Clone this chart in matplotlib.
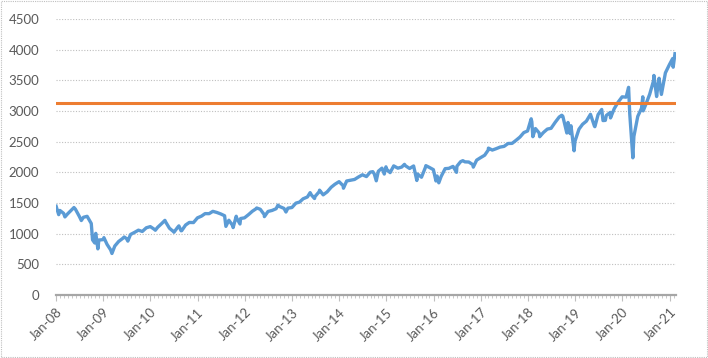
import numpy as np
import pandas as pd
import matplotlib
matplotlib.use("Agg")
import matplotlib.pyplot as plt
import matplotlib.dates as mdates
from matplotlib.patches import Rectangle

# S&P 500 level (month-end closes plus swing highs/lows)
dates = [
    "2008-01-02", "2008-01-22", "2008-01-31", "2008-02-29", "2008-03-10", "2008-03-31",
    "2008-04-30", "2008-05-19", "2008-05-30", "2008-06-30", "2008-07-15", "2008-07-31",
    "2008-08-29", "2008-09-30", "2008-10-10", "2008-10-27", "2008-10-31", "2008-11-04",
    "2008-11-20", "2008-11-28", "2008-12-31", "2009-01-06", "2009-01-30", "2009-02-27",
    "2009-03-09", "2009-03-31", "2009-04-30", "2009-05-29", "2009-06-12", "2009-06-30",
    "2009-07-10", "2009-07-31", "2009-08-31", "2009-09-30", "2009-10-30", "2009-11-30",
    "2009-12-31", "2010-01-29", "2010-02-08", "2010-02-26", "2010-03-31", "2010-04-23",
    "2010-04-30", "2010-05-28", "2010-06-30", "2010-07-02", "2010-07-30", "2010-08-09",
    "2010-08-26", "2010-08-31", "2010-09-30", "2010-10-29", "2010-11-30", "2010-12-31",
    "2011-01-31", "2011-02-28", "2011-03-31", "2011-04-29", "2011-05-31", "2011-06-30",
    "2011-07-29", "2011-08-08", "2011-08-31", "2011-09-30", "2011-10-03", "2011-10-27",
    "2011-10-31", "2011-11-25", "2011-11-30", "2011-12-30", "2012-01-31", "2012-02-29",
    "2012-03-30", "2012-04-02", "2012-04-30", "2012-05-31", "2012-06-01", "2012-06-29",
    "2012-07-31", "2012-08-31", "2012-09-14", "2012-09-28", "2012-10-31", "2012-11-15",
    "2012-11-30", "2012-12-31", "2013-01-31", "2013-02-28", "2013-03-28", "2013-04-30",
    "2013-05-21", "2013-05-31", "2013-06-24", "2013-06-28", "2013-07-31", "2013-08-02",
    "2013-08-30", "2013-09-30", "2013-10-31", "2013-11-29", "2013-12-31", "2014-01-31",
    "2014-02-03", "2014-02-28", "2014-03-31", "2014-04-30", "2014-05-30", "2014-06-30",
    "2014-07-31", "2014-08-29", "2014-09-18", "2014-09-30", "2014-10-15", "2014-10-31",
    "2014-11-28", "2014-12-16", "2014-12-29", "2014-12-31", "2015-01-30", "2015-02-27",
    "2015-03-31", "2015-04-30", "2015-05-21", "2015-05-29", "2015-06-30", "2015-07-31",
    "2015-08-25", "2015-08-31", "2015-09-30", "2015-10-30", "2015-11-03", "2015-11-30",
    "2015-12-31", "2016-01-20", "2016-01-29", "2016-02-11", "2016-02-29", "2016-03-31",
    "2016-04-29", "2016-05-31", "2016-06-27", "2016-06-30", "2016-07-29", "2016-08-15",
    "2016-08-31", "2016-09-30", "2016-10-31", "2016-11-04", "2016-11-30", "2016-12-30",
    "2017-01-31", "2017-02-28", "2017-03-01", "2017-03-31", "2017-04-28", "2017-05-31",
    "2017-06-30", "2017-07-31", "2017-08-31", "2017-09-29", "2017-10-31", "2017-11-30",
    "2017-12-29", "2018-01-26", "2018-01-31", "2018-02-08", "2018-02-28", "2018-03-29",
    "2018-04-02", "2018-04-30", "2018-05-31", "2018-06-29", "2018-07-31", "2018-08-31",
    "2018-09-20", "2018-09-28", "2018-10-29", "2018-10-31", "2018-11-07", "2018-11-23",
    "2018-11-30", "2018-12-24", "2018-12-31", "2019-01-31", "2019-02-28", "2019-03-29",
    "2019-04-30", "2019-05-31", "2019-06-03", "2019-06-28", "2019-07-26", "2019-08-05",
    "2019-08-23", "2019-08-30", "2019-09-30", "2019-10-02", "2019-10-31", "2019-11-29",
    "2019-12-31", "2020-01-31", "2020-02-19", "2020-02-28", "2020-03-23", "2020-03-31",
    "2020-04-30", "2020-05-29", "2020-06-08", "2020-06-11", "2020-06-30", "2020-07-31",
    "2020-08-31", "2020-09-02", "2020-09-23", "2020-09-30", "2020-10-12", "2020-10-30",
    "2020-11-30", "2020-12-31", "2021-01-25", "2021-01-29", "2021-02-12",
]
spx = [
    1447, 1310, 1379, 1331, 1273, 1323,
    1386, 1426, 1400, 1280, 1214, 1267,
    1283, 1166, 899, 848, 969, 1005,
    752, 896, 903, 935, 826, 735,
    677, 798, 873, 919, 946, 919,
    879, 987, 1021, 1057, 1036, 1096,
    1115, 1074, 1056, 1104, 1169, 1217,
    1187, 1089, 1031, 1023, 1102, 1127,
    1047, 1049, 1141, 1183, 1181, 1258,
    1286, 1327, 1326, 1364, 1345, 1321,
    1292, 1119, 1219, 1131, 1099, 1284,
    1253, 1158, 1247, 1258, 1312, 1366,
    1408, 1419, 1398, 1310, 1278, 1362,
    1379, 1407, 1465, 1441, 1412, 1353,
    1416, 1426, 1498, 1515, 1569, 1598,
    1669, 1631, 1573, 1606, 1686, 1709,
    1633, 1682, 1757, 1806, 1848, 1783,
    1741, 1859, 1872, 1884, 1924, 1960,
    1931, 2003, 2011, 1972, 1862, 2018,
    2068, 1972, 2090, 2059, 1995, 2105,
    2068, 2086, 2130, 2107, 2063, 2104,
    1867, 1972, 1920, 2079, 2109, 2080,
    2044, 1859, 1940, 1829, 1932, 2060,
    2065, 2097, 2000, 2099, 2174, 2190,
    2171, 2168, 2126, 2085, 2199, 2239,
    2279, 2364, 2395, 2363, 2384, 2412,
    2423, 2470, 2472, 2519, 2575, 2648,
    2674, 2873, 2824, 2581, 2714, 2641,
    2581, 2648, 2705, 2718, 2816, 2902,
    2931, 2914, 2641, 2712, 2813, 2632,
    2760, 2351, 2507, 2704, 2784, 2834,
    2946, 2752, 2744, 2942, 3025, 2844,
    2847, 2926, 2977, 2887, 3038, 3141,
    3231, 3226, 3386, 2954, 2237, 2585,
    2912, 3044, 3232, 3002, 3100, 3271,
    3500, 3580, 3236, 3363, 3534, 3270,
    3622, 3756, 3855, 3714, 3934,
]
threshold = 3130
years = list(range(2008, 2022))

dates = pd.to_datetime(dates)
plt.rcParams['font.family'] = ['Lato', 'DejaVu Sans']

fig = plt.figure(figsize=(7.08, 3.58), dpi=100)
ax = fig.add_axes([56 / 708, 63 / 358, 620 / 708, 276 / 358])

ax.plot(dates, spx, color='#5B9BD5', lw=2.4, solid_joinstyle='round', zorder=3)
ax.axhline(threshold, color='#ED7D31', lw=2.2, zorder=4)

ax.set_ylim(0, 4500)
ax.set_yticks(np.arange(0, 4501, 500))
ax.set_xlim(pd.Timestamp('2008-01-01'), pd.Timestamp('2021-02-20'))
ticks = [pd.Timestamp(f'{y}-01-01') for y in years]
ax.set_xticks(ticks)
ax.set_xticklabels([t.strftime('Jan-%y') for t in ticks], rotation=45, ha='right',
                   rotation_mode='anchor')
ax.xaxis.set_minor_locator(mdates.MonthLocator())

ax.grid(axis='y', color='#BFBFBF', ls=(0, (1, 1.5)), lw=0.8)
ax.set_axisbelow(True)
for s in ['top', 'right', 'left']:
    ax.spines[s].set_visible(False)
ax.spines['bottom'].set_color('#A6A6A6')
ax.spines['bottom'].set_linewidth(1.6)
ax.tick_params(axis='y', length=0, pad=12, labelsize=9.5, labelcolor='#595959')
ax.tick_params(axis='x', which='major', length=4, color='#BFBFBF', pad=4,
               labelsize=9.5, labelcolor='#595959')
ax.tick_params(axis='x', which='minor', length=2, color='#BFBFBF')

# dotted border round the chart area
fig.patches.append(Rectangle((0.002, 0.003), 0.996, 0.994, transform=fig.transFigure,
                             fill=False, ec='#BFBFBF', ls=(0, (1, 1)), lw=0.8))

fig.savefig('out.png', dpi=100)
